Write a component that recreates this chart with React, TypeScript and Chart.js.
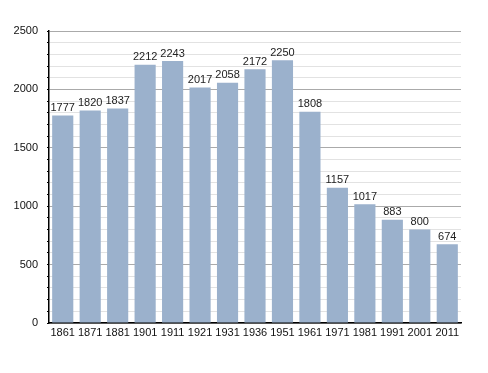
import React, { useEffect, useRef } from "react";
import { Chart, registerables } from "chart.js";

Chart.register(...registerables);

const years = ["1861", "1871", "1881", "1901", "1911", "1921", "1931", "1936", "1951", "1961", "1971", "1981", "1991", "2001", "2011"];
const population = [1777, 1820, 1837, 2212, 2243, 2017, 2058, 2172, 2250, 1808, 1157, 1017, 883, 800, 674];

const FONT = "'Liberation Sans', Arial, sans-serif";

const valueLabels = {
  id: "valueLabels",
  afterDatasetsDraw(chart: any) {
    const ctx = chart.ctx;
    const meta = chart.getDatasetMeta(0);
    ctx.save();
    ctx.font = `11px ${FONT}`;
    ctx.fillStyle = "#222";
    ctx.textAlign = "center";
    ctx.textBaseline = "bottom";
    meta.data.forEach((bar: any, i: number) => {
      ctx.fillText(String(population[i]), bar.x, bar.y - 2);
    });
    ctx.restore();
  },
};

export default function App() {
  const ref = useRef<HTMLCanvasElement>(null);
  useEffect(() => {
    document.body.style.margin = "0";
    const chart = new Chart(ref.current!, {
      type: "bar",
      data: {
        labels: years,
        datasets: [
          {
            data: population,
            backgroundColor: "#9bb1cc",
            borderWidth: 0,
            categoryPercentage: 1,
            barPercentage: 0.77,
          },
        ],
      },
      options: {
        responsive: false,
        animation: false,
        layout: { padding: { top: 31, right: 27, bottom: 0, left: 0 } },
        plugins: { legend: { display: false }, tooltip: { enabled: false } },
        scales: {
          x: {
            grid: { display: false, drawTicks: false },
            border: { display: true, color: "#000", width: 1.5 },
            ticks: { color: "#111", font: { family: FONT, size: 11 }, padding: 3, maxRotation: 0, autoSkip: false },
            afterFit(scale: any) {
              scale.height = 50;
            },
          },
          y: {
            min: 0,
            max: 2500,
            border: { display: true, color: "#000", width: 1.5 },
            grid: {
              color: (c: any) => (c.tick && c.tick.value % 500 === 0 ? "#aaaaaa" : "#e2e2e2"),
              tickColor: "#000",
              tickLength: (c: any) => (c.tick && c.tick.value % 500 === 0 ? 4 : 2),
              lineWidth: 1,
            } as any,
            ticks: {
              stepSize: 100,
              autoSkip: false,
              color: "#111",
              font: { family: FONT, size: 11 },
              padding: 9,
              callback: (v: any) => (Number(v) % 500 === 0 ? String(v) : ""),
            },
            afterFit(scale: any) {
              scale.width = 49;
            },
          },
        },
      },
      plugins: [valueLabels],
    });
    return () => chart.destroy();
  }, []);
  return (
    <div style={{ position: "fixed", left: 0, top: 0, width: 488, height: 373, background: "#fff" }}>
      <canvas ref={ref} width={488} height={373} />
    </div>
  );
}
